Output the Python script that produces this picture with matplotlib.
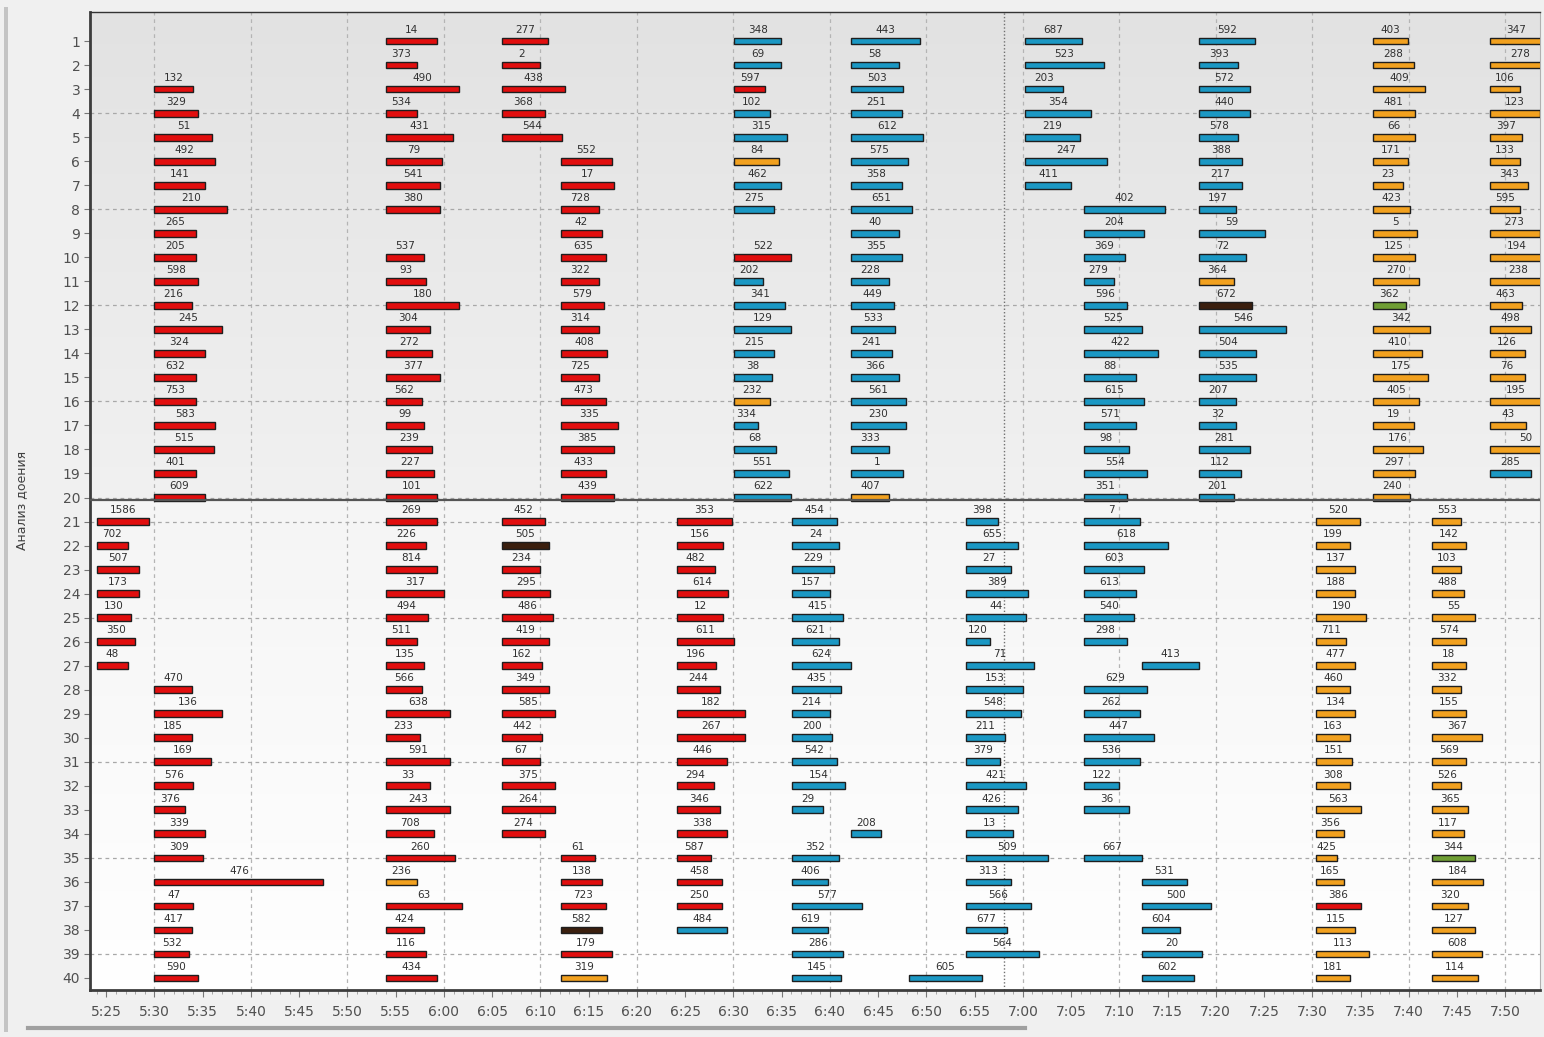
import numpy as np
import matplotlib
matplotlib.use("Agg")
import matplotlib.pyplot as plt
from matplotlib.colors import LinearSegmentedColormap
from matplotlib.lines import Line2D
from matplotlib.patches import Rectangle
from matplotlib.ticker import MultipleLocator, FuncFormatter

# bar colours by one-letter code
palette = {"r": "#e20e0e", "b": "#1b98c4", "o": "#f2a11f", "k": "#3b1f0e", "g": "#6f9e34"}

# time is minutes after 5:00; every column of bars shares one start time
# --- top panel (stalls 1-20) + bottom panel (21-40) ---
a_start = 30.0
a_rows = list(range(3, 21)) + list(range(28, 41))
a_ids = [132, 329, 51, 492, 141, 210, 265, 205, 598, 216, 245, 324, 632, 753, 583, 515, 401, 609,
         470, 136, 185, 169, 576, 376, 339, 309, 476, 47, 417, 532, 590]
a_dur = [4.0, 4.5, 6.0, 6.3, 5.2, 7.5, 4.3, 4.3, 4.5, 3.85, 7.0, 5.2, 4.3, 4.3, 6.3, 6.15, 4.3, 5.2,
         3.85, 7.0, 3.85, 5.9, 4.0, 3.2, 5.2, 5.0, 17.5, 4.0, 3.85, 3.6, 4.5]
a_col = "r" * 31

b_start = 54.0
b_rows = list(range(1, 9)) + list(range(10, 41))
b_ids = [14, 373, 490, 534, 431, 79, 541, 380, 537, 93, 180, 304, 272, 377, 562, 99, 239, 227, 101,
         269, 226, 814, 317, 494, 511, 135, 566, 638, 233, 591, 33, 243, 708, 260, 236, 63, 424, 116, 434]
b_dur = [5.3, 3.2, 7.6, 3.2, 6.9, 5.8, 5.6, 5.6, 3.9, 4.1, 7.6, 4.6, 4.8, 5.6, 3.7, 3.9, 4.8, 5.0, 5.3,
         5.3, 4.1, 5.3, 6.0, 4.3, 3.2, 3.9, 3.7, 6.6, 3.5, 6.6, 4.6, 6.6, 5.0, 7.1, 3.2, 7.9, 3.9, 4.1, 5.3]
b_col = "r" * 34 + "o" + "r" * 4

c_start = 66.0
c_rows = list(range(1, 6)) + list(range(21, 35))
c_ids = [277, 2, 438, 368, 544,
         452, 505, 234, 295, 486, 419, 162, 349, 585, 442, 67, 375, 264, 274]
c_dur = [4.8, 4.0, 6.6, 4.5, 6.2,
         4.5, 4.9, 4.0, 5.0, 5.3, 4.9, 4.2, 4.9, 5.5, 4.2, 4.0, 5.5, 5.5, 4.5]
c_col = "r" * 6 + "k" + "r" * 12

d_start = 72.1
d_rows = list(range(6, 21)) + list(range(35, 41))
d_ids = [552, 17, 728, 42, 635, 322, 579, 314, 408, 725, 473, 335, 385, 433, 439,
         61, 138, 723, 582, 179, 319]
d_dur = [5.3, 5.5, 4.0, 4.3, 4.7, 4.0, 4.5, 4.0, 4.8, 4.0, 4.7, 5.9, 5.5, 4.7, 5.5,
         3.6, 4.3, 4.7, 4.3, 5.3, 4.8]
d_col = "r" * 15 + "rrrkro"

q_start = 84.15
q_rows = list(range(21, 39))
q_ids = [353, 156, 482, 614, 12, 611, 196, 244, 182, 267, 446, 294, 346, 338, 587, 458, 250, 484]
q_dur = [5.7, 4.8, 3.9, 5.25, 4.8, 5.9, 4.0, 4.5, 7.05, 7.05, 5.2, 3.8, 4.5, 5.2, 3.55, 4.7, 4.7, 5.2]
q_col = "r" * 17 + "b"

e_start = 90.1
e_rows = list(range(1, 9)) + list(range(10, 21))
e_ids = [348, 69, 597, 102, 315, 84, 462, 275, 522, 202, 341, 129, 215, 38, 232, 334, 68, 551, 622]
e_dur = [4.85, 4.85, 3.2, 3.65, 5.5, 4.6, 4.85, 4.1, 5.9, 3.0, 5.3, 5.9, 4.1, 3.9, 3.65, 2.5, 4.3, 5.7, 5.9]
e_col = "bbrbbobbrbbbbbobbbb"

r_start = 96.1
r_rows = list(range(21, 34)) + list(range(35, 41))
r_ids = [454, 24, 229, 157, 415, 621, 624, 435, 214, 200, 542, 154, 29, 352, 406, 577, 619, 286, 145]
r_dur = [4.6, 4.8, 4.3, 3.9, 5.3, 4.8, 6.1, 5.1, 3.9, 4.1, 4.6, 5.5, 3.2, 4.8, 3.7, 7.2, 3.7, 5.3, 5.1]
r_col = "b" * 19

f_start = 102.15
f_rows = list(range(1, 21)) + [34]
f_ids = [443, 58, 503, 251, 612, 575, 358, 651, 40, 355, 228, 449, 533, 241, 366, 561, 230, 333, 1, 407, 208]
f_dur = [7.15, 5.0, 5.4, 5.3, 7.55, 5.9, 5.3, 6.4, 5.0, 5.3, 4.0, 4.5, 4.6, 4.3, 5.0, 5.7, 5.7, 4.0, 5.4, 4.0, 3.2]
f_col = "b" * 19 + "o" + "b"

s_start = 108.2
s_rows = [40]
s_ids = [605]
s_dur = [7.55]
s_col = "b"

t_start = 114.1
t_rows = list(range(21, 40))
t_ids = [398, 655, 27, 389, 44, 120, 71, 153, 548, 211, 379, 421, 426, 13, 509, 313, 566, 677, 564]
t_dur = [3.3, 5.35, 4.7, 6.45, 6.2, 2.5, 7.1, 5.9, 5.7, 4.05, 3.5, 6.2, 5.35, 4.9, 8.5, 4.7, 6.7, 4.3, 7.6]
t_col = "b" * 19

g_start = 120.2
g_rows = list(range(1, 8))
g_ids = [687, 523, 203, 354, 219, 247, 411]
g_dur = [5.9, 8.25, 4.0, 6.9, 5.7, 8.5, 4.8]
g_col = "b" * 7

h_start = 126.3
h_rows = list(range(8, 27)) + list(range(28, 34)) + [35]
h_ids = [402, 204, 369, 279, 596, 525, 422, 88, 615, 571, 98, 554, 351,
         7, 618, 603, 613, 540, 298, 629, 262, 447, 536, 122, 36, 667]
h_dur = [8.45, 6.3, 4.3, 3.1, 4.5, 6.1, 7.7, 5.4, 6.3, 5.4, 4.7, 6.6, 4.5,
         5.8, 8.75, 6.3, 5.4, 5.2, 4.5, 6.6, 5.8, 7.25, 5.8, 3.7, 4.7, 6.0]
h_col = "b" * 26

v_start = 132.3
v_rows = [27, 36, 37, 38, 39, 40]
v_ids = [413, 531, 500, 604, 20, 602]
v_dur = [6.0, 4.75, 7.25, 4.0, 6.3, 5.4]
v_col = "b" * 6

i_start = 138.3
i_rows = list(range(1, 21))
i_ids = [592, 393, 572, 440, 578, 388, 217, 197, 59, 72, 364, 672, 546, 504, 535, 207, 32, 281, 112, 201]
i_dur = [5.8, 4.0, 5.2, 5.2, 4.0, 4.4, 4.4, 3.8, 6.8, 4.8, 3.6, 5.5, 9.0, 5.9, 5.9, 3.8, 3.8, 5.2, 4.3, 3.6]
i_col = "b" * 10 + "ok" + "b" * 8

w_start = 150.4
w_rows = list(range(21, 41))
w_ids = [520, 199, 137, 188, 190, 711, 477, 460, 134, 163, 151, 308, 563, 356, 425, 165, 386, 115, 113, 181]
w_dur = [4.5, 3.5, 4.0, 4.0, 5.2, 3.05, 4.0, 3.5, 4.0, 3.5, 3.7, 3.5, 4.65, 2.9, 2.15, 2.9, 4.65, 4.0, 5.5, 3.5]
w_col = "o" * 16 + "r" + "o" * 3

j_start = 156.3
j_rows = list(range(1, 21))
j_ids = [403, 288, 409, 481, 66, 171, 23, 423, 5, 125, 270, 362, 342, 410, 175, 405, 19, 176, 297, 240]
j_dur = [3.6, 4.2, 5.4, 4.3, 4.3, 3.6, 3.1, 3.85, 4.6, 4.3, 4.8, 3.4, 5.9, 5.1, 5.7, 4.8, 4.2, 5.2, 4.3, 3.85]
j_col = "o" * 11 + "g" + "o" * 8

x_start = 162.4
x_rows = list(range(21, 41))
x_ids = [553, 142, 103, 488, 55, 574, 18, 332, 155, 367, 569, 526, 365, 117, 344, 184, 320, 127, 608, 114]
x_dur = [3.05, 3.5, 3.05, 3.3, 4.45, 3.5, 3.5, 3.05, 3.5, 5.15, 3.5, 3.05, 3.75, 3.3, 4.45, 5.3, 3.75, 4.45, 5.15, 4.75]
x_col = "o" * 14 + "g" + "o" * 5

k_start = 168.4
k_rows = list(range(1, 20))
k_ids = [347, 278, 106, 123, 397, 133, 343, 595, 273, 194, 238, 463, 498, 126, 76, 195, 43, 50, 285]
k_dur = [5.35, 6.2, 3.1, 5.15, 3.3, 3.1, 4.0, 3.1, 5.15, 5.55, 5.95, 3.3, 4.3, 3.6, 3.6, 5.35, 3.7, 7.5, 4.3]
k_col = "o" * 18 + "b"

l_start = 24.0
l_rows = list(range(21, 28))
l_ids = [1586, 702, 507, 173, 130, 350, 48]
l_dur = [5.4, 3.3, 4.45, 4.45, 3.6, 4.0, 3.3]
l_col = "r" * 7

now_marker = 118.1   # dotted "current time" line, ~6:58

groups = [
    (a_start, a_rows, a_ids, a_dur, a_col), (b_start, b_rows, b_ids, b_dur, b_col),
    (c_start, c_rows, c_ids, c_dur, c_col), (d_start, d_rows, d_ids, d_dur, d_col),
    (q_start, q_rows, q_ids, q_dur, q_col), (e_start, e_rows, e_ids, e_dur, e_col),
    (r_start, r_rows, r_ids, r_dur, r_col), (f_start, f_rows, f_ids, f_dur, f_col),
    (s_start, s_rows, s_ids, s_dur, s_col), (t_start, t_rows, t_ids, t_dur, t_col),
    (g_start, g_rows, g_ids, g_dur, g_col), (h_start, h_rows, h_ids, h_dur, h_col),
    (v_start, v_rows, v_ids, v_dur, v_col), (i_start, i_rows, i_ids, i_dur, i_col),
    (w_start, w_rows, w_ids, w_dur, w_col), (j_start, j_rows, j_ids, j_dur, j_col),
    (x_start, x_rows, x_ids, x_dur, x_col), (k_start, k_rows, k_ids, k_dur, k_col),
    (l_start, l_rows, l_ids, l_dur, l_col),
]

xmin, xmax = 23.32, 173.6
ymax_top, ysplit, ymin_bot = -0.21, 20.12, 40.5

fig = plt.figure(figsize=(15.44, 10.37), dpi=100, facecolor="#f0f0f0")
ax = fig.add_axes([90 / 1544, 1 - 990 / 1037, 1450 / 1544, 978 / 1037])
ax.set_xlim(xmin, xmax)
ax.set_ylim(ymin_bot, ymax_top)

# panel backgrounds (light gradient)
grad = np.linspace(0, 1, 256).reshape(-1, 1)
top_cmap = LinearSegmentedColormap.from_list("top", ["#e2e2e2", "#f1f1f1"])
bot_cmap = LinearSegmentedColormap.from_list("bot", ["#f5f5f5", "#ffffff"])
ax.imshow(grad, extent=[xmin, xmax, ysplit, ymax_top], aspect="auto", cmap=top_cmap, zorder=0)
ax.imshow(grad, extent=[xmin, xmax, ymin_bot, ysplit], aspect="auto", cmap=bot_cmap, zorder=0)

# grid
for xv in np.arange(30, 171, 10):
    ax.axvline(xv, color="#b4b4b4", lw=0.9, ls=(0, (3, 3)), zorder=1)
for yv in [4, 8, 12, 16, 20, 21, 25, 31, 35, 39]:
    ax.axhline(yv, color="#a8a8a8", lw=0.9, ls=(0, (3, 3)), zorder=1)
ax.axvline(now_marker, color="#707070", lw=1.0, ls=(0, (1, 1.5)), zorder=1)
ax.axhline(ysplit, color="#555555", lw=1.6, zorder=4)

for start, rows, ids, durs, cols in groups:
    colors = [palette[c] for c in cols]
    ax.barh(rows, durs, left=start, height=0.28, color=colors,
            edgecolor="#1e1e1e", linewidth=1.0, zorder=3)
    for row, cid, dur in zip(rows, ids, durs):
        ax.text(start + dur / 2, row - 0.47, str(cid), ha="center", va="center",
                fontsize=7.5, color="#303030", zorder=5)

# axes styling
ax.xaxis.set_major_locator(MultipleLocator(5))
ax.xaxis.set_minor_locator(MultipleLocator(1))
ax.xaxis.set_major_formatter(FuncFormatter(lambda v, p: f"{int(round(v)) // 60 + 5}:{int(round(v)) % 60:02d}"))
ax.set_yticks(range(1, 41))
ax.tick_params(axis="x", which="major", length=5, color="#777777", labelsize=10,
               labelcolor="#505050", pad=6)
ax.tick_params(axis="x", which="minor", length=3, color="#999999")
ax.tick_params(axis="y", length=4, color="#777777", labelsize=10, labelcolor="#505050", pad=3)
for side in ["left", "bottom"]:
    ax.spines[side].set_color("#3c3c3c")
    ax.spines[side].set_linewidth(2)
ax.spines["top"].set_color("#333333")
ax.spines["top"].set_linewidth(1)
ax.spines["right"].set_color("#b0b0b0")
ax.spines["right"].set_linewidth(0.8)

fig.text(22 / 1544, 1 - 500 / 1037, "Анализ доения", rotation=90, ha="center", va="center",
         fontsize=9, color="#404040")

# window frame bits: left border and scrollbar
fig.add_artist(Rectangle((4 / 1544, 1 - 1032 / 1037), 4 / 1544, 1025 / 1037,
                         transform=fig.transFigure, color="#c4c4c4", lw=0))
fig.add_artist(Line2D([28 / 1544, 1025 / 1544], [1 - 1028 / 1037] * 2,
                      transform=fig.transFigure, color="#a0a0a0", lw=3))

fig.savefig("out.png", dpi=100, facecolor=fig.get_facecolor())
